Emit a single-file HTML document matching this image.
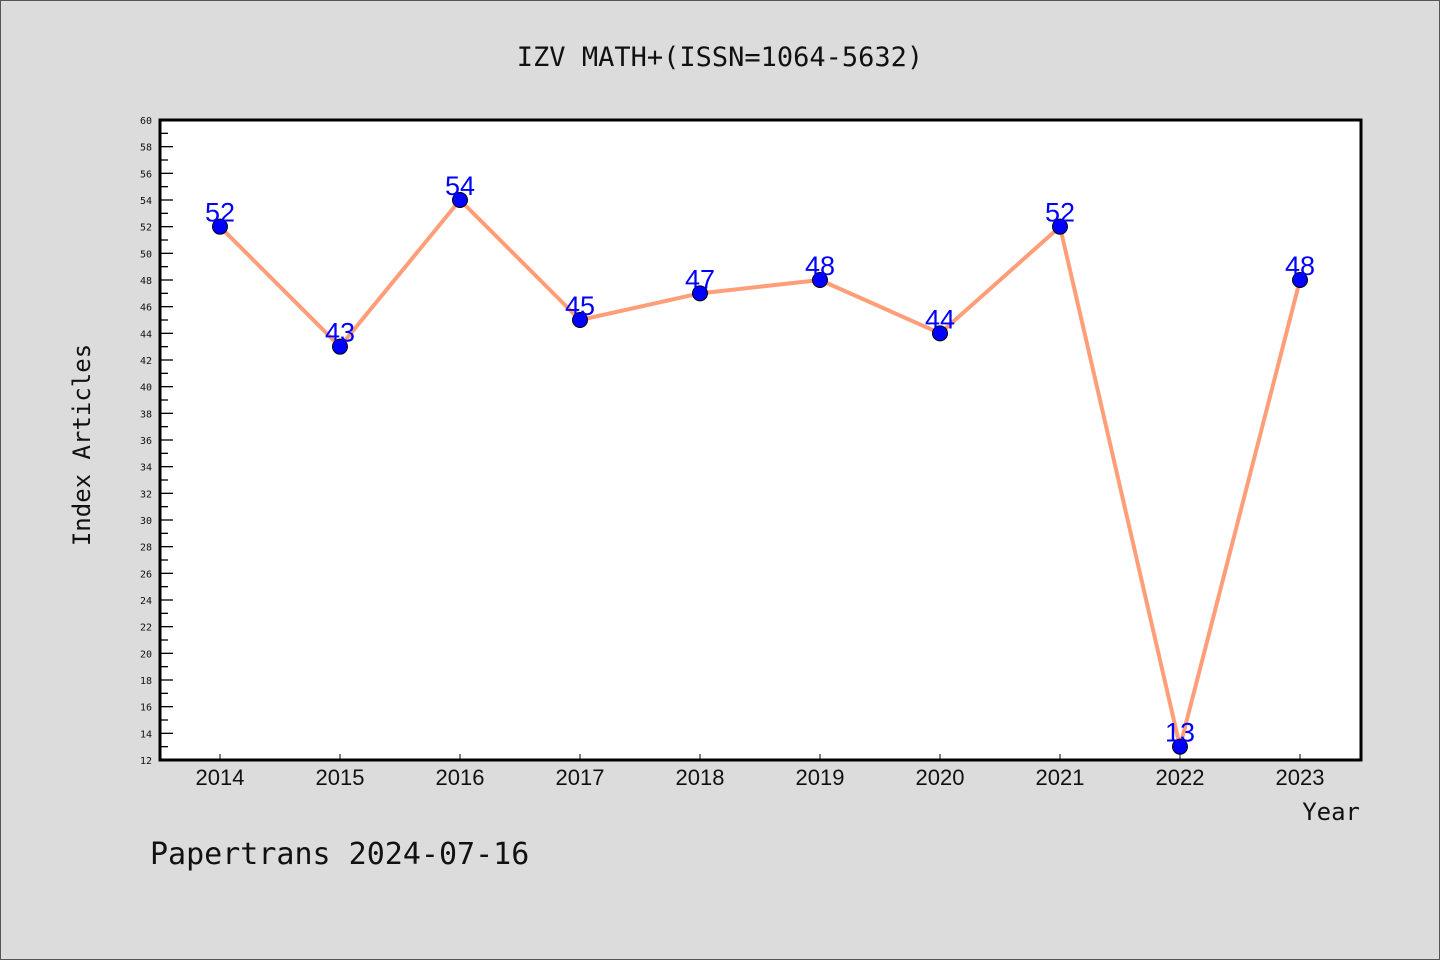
<!DOCTYPE html>
<html><head><meta charset="utf-8"><style>
html,body{margin:0;padding:0;background:#dcdcdc;}
svg{display:block;font-family:"DejaVu Sans Mono","Liberation Mono",monospace;}
</style></head><body>
<svg width="1440" height="960" viewBox="0 0 1440 960">
<rect x="0.5" y="0.5" width="1439" height="959" fill="#dcdcdc" stroke="#555"/>
<text x="720" y="66" text-anchor="middle" font-size="27" fill="#111">IZV MATH+(ISSN=1064-5632)</text>
<rect x="160" y="120" width="1201" height="640" fill="#fff"/>
<g id="ticks"></g>
<rect x="160" y="120" width="1201" height="640" fill="none" stroke="#000" stroke-width="3"/>
<g id="series"></g>
<text x="90" y="445" text-anchor="middle" font-size="24" fill="#111" transform="rotate(-90 90 445)">Index Articles</text>
<text x="1360" y="820" text-anchor="end" font-size="24" fill="#111">Year</text>
<text x="150" y="864" font-size="30" fill="#111">Papertrans 2024-07-16</text>
</svg>
<script>
const years=["2014","2015","2016","2017","2018","2019","2020","2021","2022","2023"];
const counts=[52,43,54,45,47,48,44,52,13,48];
const yMin=12,yMax=60;
const NS="http://www.w3.org/2000/svg";
function X(i){return 220+i*120;}
function Y(v){return 760-(v-yMin)*(640/(yMax-yMin));}
function mk(t,a,p){const e=document.createElementNS(NS,t);for(const k in a)e.setAttribute(k,a[k]);p.appendChild(e);return e;}
const tk=document.getElementById('ticks');
for(let v=yMin;v<=yMax;v++){
  const major=v%2===0;
  const l=mk('line',{x1:160,x2:major?173:168,y1:Y(v),y2:Y(v),stroke:'#000','stroke-width':1.3},tk);
  
  
  if(major){const t=mk('text',{x:152,y:Y(v)+4,'text-anchor':'end','font-size':10,fill:'#111'},tk);t.textContent=v;
  
  }
}
years.forEach((y,i)=>{
  const l=mk('line',{x1:X(i),x2:X(i),y1:760,y2:754,stroke:'#000','stroke-width':1},tk);
  
  
  const t=mk('text',{x:X(i),y:785,'text-anchor':'middle','font-size':22,fill:'#111','font-family':'Liberation Sans, sans-serif'},tk);t.textContent=y;
  
  
});
const sg=document.getElementById('series');
const pl=mk('polyline',{points:counts.map((v,i)=>X(i)+','+Y(v)).join(' '),fill:'none',stroke:'#ff9e78','stroke-width':4,'stroke-linejoin':'round'},sg);


counts.forEach((v,i)=>{
  const c=mk('circle',{cx:X(i),cy:Y(v),r:7.5,fill:'#0000ff',stroke:'#000','stroke-width':1},sg);
  
  
  const t=mk('text',{x:X(i),y:Y(v)-5,'text-anchor':'middle','font-size':27,fill:'#0000ff','font-family':'Liberation Sans, sans-serif'},sg);t.textContent=v;
  
  
});
</script>
</body></html>
